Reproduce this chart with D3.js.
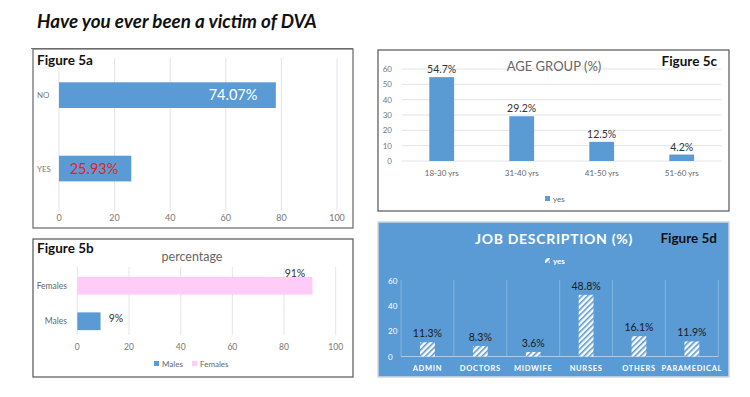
<!DOCTYPE html>
<html>
<head>
<meta charset="utf-8">
<script src="https://cdn.jsdelivr.net/npm/d3@7"></script>
<style>
  body { margin: 0; background: #fff; }
  svg { display: block; font-family: Lato, "Open Sans", sans-serif; }
</style>
</head>
<body>
<div id="chart"></div>
<script>
// ---- data ----
const victimCats = ["NO", "YES"];
const victimVals = [78, 26];
const victimLabels = ["74.07%", "25.93%"];

const genderCats = ["Females", "Males"];
const genderVals = [91, 9];
const genderLabels = ["91%", "9%"];

const ageCats = ["18-30 yrs", "31-40 yrs", "41-50 yrs", "51-60 yrs"];
const ageVals = [54.7, 29.2, 12.5, 4.2];

const jobCats = ["ADMIN", "DOCTORS", "MIDWIFE", "NURSES", "OTHERS", "PARAMEDICAL"];
const jobVals = [11.3, 8.3, 3.6, 48.8, 16.1, 11.9];

const xTicks100 = [0, 20, 40, 60, 80, 100];

const blue = "#5B9BD5";
const pink = "#FFCCF7";

const width = 750, height = 397;
const svg = d3.select("#chart").append("svg")
  .attr("width", width)
  .attr("height", height);

// hatch pattern for 5d
const defs = svg.append("defs");
const pat = defs.append("pattern")
  .attr("id", "hatch")
  .attr("patternUnits", "userSpaceOnUse")
  .attr("width", 4).attr("height", 4)
  .attr("patternTransform", "rotate(45)");
pat.append("rect").attr("width", 4).attr("height", 4).attr("fill", "#fff");
pat.append("rect").attr("width", 1.6).attr("height", 4).attr("fill", blue);

// title
svg.append("text")
  .attr("x", 37).attr("y", 28)
  .attr("font-size", 18.8)
  .attr("font-weight", "bold")
  .attr("font-style", "italic")
  .attr("fill", "#111")
  .text("Have you ever been a victim of DVA");
svg.append("line")
  .attr("x1", 31).attr("x2", 353)
  .attr("y1", 48.5).attr("y2", 48.5)
  .attr("stroke", "#777").attr("stroke-width", 1);

// ---------- Figure 5a ----------
{
  const g = svg.append("g");
  g.append("rect")
    .attr("x", 33).attr("y", 49).attr("width", 320).attr("height", 179)
    .attr("fill", "#fff").attr("stroke", "#666").attr("stroke-width", 1.2);

  const x = d3.scaleLinear().domain([0, 100]).range([59, 337]);
  const y = d3.scaleBand().domain(victimCats).range([45.6, 218.1]).paddingInner(0.65).paddingOuter(0.5);

  g.selectAll(".grid").data(xTicks100).join("line")
    .attr("x1", d => x(d)).attr("x2", d => x(d))
    .attr("y1", 58).attr("y2", 211)
    .attr("stroke", "#dfe3ea");

  g.selectAll(".xt").data(xTicks100).join("text")
    .attr("x", d => x(d)).attr("y", 221)
    .attr("text-anchor", "middle")
    .attr("font-size", 9).attr("fill", "#777")
    .text(d => d);

  g.selectAll(".bar").data(victimCats).join("rect")
    .attr("x", x(0))
    .attr("y", d => y(d))
    .attr("width", (d, i) => x(victimVals[i]) - x(0))
    .attr("height", y.bandwidth())
    .attr("fill", blue);

  g.selectAll(".cat").data(victimCats).join("text")
    .attr("x", 37)
    .attr("y", d => y(d) + y.bandwidth() / 2 + 3)
    .attr("font-size", 8).attr("fill", "#777")
    .text(d => d);

  g.selectAll(".lab").data(victimCats).join("text")
    .attr("x", (d, i) => i === 0 ? 233 : 94)
    .attr("y", d => y(d) + y.bandwidth() / 2 + 5)
    .attr("text-anchor", "middle")
    .attr("font-size", 14.5)
    .attr("fill", (d, i) => i === 0 ? "#fff" : "#e8202a")
    .text((d, i) => victimLabels[i]);

  g.append("text")
    .attr("x", 37).attr("y", 65)
    .attr("font-size", 13.5).attr("font-weight", "bold").attr("fill", "#111")
    .text("Figure 5a");
}

// ---------- Figure 5b ----------
{
  const g = svg.append("g");
  g.append("rect")
    .attr("x", 33).attr("y", 239).attr("width", 320).attr("height", 138)
    .attr("fill", "#fff").attr("stroke", "#555").attr("stroke-width", 1.2);

  const x = d3.scaleLinear().domain([0, 100]).range([77.3, 335.7]);
  const y = d3.scaleBand().domain(genderCats).range([268, 339]).paddingInner(0.5).paddingOuter(0.25);

  g.selectAll(".grid").data(xTicks100).join("line")
    .attr("x1", d => x(d)).attr("x2", d => x(d))
    .attr("y1", 267).attr("y2", 335)
    .attr("stroke", "#e4e6ea");

  g.selectAll(".xt").data(xTicks100).join("text")
    .attr("x", d => x(d)).attr("y", 349.5)
    .attr("text-anchor", "middle")
    .attr("font-size", 8.5).attr("fill", "#777")
    .text(d => d);

  g.selectAll(".bar").data(genderCats).join("rect")
    .attr("x", x(0))
    .attr("y", d => y(d))
    .attr("width", (d, i) => x(genderVals[i]) - x(0))
    .attr("height", y.bandwidth())
    .attr("fill", (d, i) => i === 0 ? pink : blue);

  g.selectAll(".cat").data(genderCats).join("text")
    .attr("x", 67)
    .attr("y", d => y(d) + y.bandwidth() / 2 + 3)
    .attr("text-anchor", "end")
    .attr("font-size", 8.5).attr("fill", "#666")
    .text(d => d);

  g.selectAll(".lab").data(genderCats).join("text")
    .attr("x", (d, i) => i === 0 ? 295 : 116)
    .attr("y", (d, i) => i === 0 ? 277 : 322)
    .attr("text-anchor", "middle")
    .attr("font-size", 10.5).attr("fill", "#333")
    .text((d, i) => genderLabels[i]);

  g.append("text")
    .attr("x", 192).attr("y", 261)
    .attr("text-anchor", "middle")
    .attr("font-size", 12.5).attr("fill", "#666")
    .text("percentage");

  // legend
  const leg = g.append("g").attr("transform", "translate(154,361)");
  genderCats.slice().reverse().forEach((c, i) => {
    const lx = i * 38;
    leg.append("rect").attr("x", lx).attr("y", 0).attr("width", 5).attr("height", 5)
      .attr("fill", c === "Males" ? blue : pink);
    leg.append("text").attr("x", lx + 8).attr("y", 6)
      .attr("font-size", 8).attr("fill", "#666").text(c);
  });

  g.append("text")
    .attr("x", 37).attr("y", 253)
    .attr("font-size", 13.5).attr("font-weight", "bold").attr("fill", "#111")
    .text("Figure 5b");
}

// ---------- Figure 5c ----------
{
  const g = svg.append("g");
  g.append("rect")
    .attr("x", 378).attr("y", 50).attr("width", 351).attr("height", 161)
    .attr("fill", "#fff").attr("stroke", "#555").attr("stroke-width", 1.2);

  const x = d3.scaleBand().domain(ageCats).range([401.7, 721.7]).paddingInner(0.69).paddingOuter(0.345);
  const y = d3.scaleLinear().domain([0, 60]).range([161, 69]);

  g.selectAll(".grid").data(y.ticks(6)).join("line")
    .attr("x1", 401.7).attr("x2", 721.7)
    .attr("y1", d => y(d)).attr("y2", d => y(d))
    .attr("stroke", "#e2e4e8");

  g.selectAll(".yt").data(y.ticks(6)).join("text")
    .attr("x", 392).attr("y", d => y(d) + 3)
    .attr("text-anchor", "end")
    .attr("font-size", 8).attr("fill", "#777")
    .text(d => d);

  g.selectAll(".bar").data(ageCats).join("rect")
    .attr("x", d => x(d))
    .attr("y", (d, i) => y(ageVals[i]))
    .attr("width", x.bandwidth())
    .attr("height", (d, i) => y(0) - y(ageVals[i]))
    .attr("fill", blue);

  g.selectAll(".lab").data(ageCats).join("text")
    .attr("x", d => x(d) + x.bandwidth() / 2)
    .attr("y", (d, i) => y(ageVals[i]) - 4)
    .attr("text-anchor", "middle")
    .attr("font-size", 10.5).attr("fill", "#333")
    .text((d, i) => ageVals[i] + "%");

  g.selectAll(".cat").data(ageCats).join("text")
    .attr("x", d => x(d) + x.bandwidth() / 2)
    .attr("y", 176)
    .attr("text-anchor", "middle")
    .attr("font-size", 8).attr("fill", "#666")
    .text(d => d);

  g.append("rect").attr("x", 545).attr("y", 196).attr("width", 5).attr("height", 5).attr("fill", blue);
  g.append("text").attr("x", 553).attr("y", 202)
    .attr("font-size", 8).attr("fill", "#666").text("yes");

  g.append("text")
    .attr("x", 554).attr("y", 71)
    .attr("text-anchor", "middle")
    .attr("font-size", 13).attr("fill", "#666")
    .text("AGE GROUP (%)");

  g.append("text")
    .attr("x", 717).attr("y", 66)
    .attr("text-anchor", "end")
    .attr("font-size", 13.5).attr("font-weight", "bold").attr("fill", "#111")
    .text("Figure 5c");
}

// ---------- Figure 5d ----------
{
  const g = svg.append("g");
  g.append("rect")
    .attr("x", 378).attr("y", 222).attr("width", 351).attr("height", 155)
    .attr("fill", blue).attr("stroke", "#cfd8e3").attr("stroke-width", 1.5);

  const x = d3.scaleBand().domain(jobCats).range([401, 718.3]).paddingInner(0.72).paddingOuter(0.36);
  const y = d3.scaleLinear().domain([0, 60]).range([356.5, 280.7]);

  // category separators
  const bounds = d3.range(jobCats.length + 1).map(i => 401 + i * x.step());
  g.selectAll(".sep").data(bounds).join("line")
    .attr("x1", d => d).attr("x2", d => d)
    .attr("y1", 280).attr("y2", 356.5)
    .attr("stroke", "#8dbbe6").attr("stroke-width", 0.8);
  g.append("line")
    .attr("x1", 401).attr("x2", 718.3)
    .attr("y1", y(0)).attr("y2", y(0))
    .attr("stroke", "#a9cbee").attr("stroke-width", 1);

  g.selectAll(".yt").data([0, 20, 40, 60]).join("text")
    .attr("x", 388).attr("y", d => y(d) + 3)
    .attr("font-size", 8).attr("fill", "#fff")
    .text(d => d);

  g.selectAll(".bar").data(jobCats).join("rect")
    .attr("x", d => x(d))
    .attr("y", (d, i) => y(jobVals[i]))
    .attr("width", x.bandwidth())
    .attr("height", (d, i) => y(0) - y(jobVals[i]))
    .attr("fill", "url(#hatch)");

  g.selectAll(".lab").data(jobCats).join("text")
    .attr("x", d => x(d) + x.bandwidth() / 2)
    .attr("y", (d, i) => y(jobVals[i]) - 5)
    .attr("text-anchor", "middle")
    .attr("font-size", 10.5).attr("fill", "#1a1a1a")
    .text((d, i) => jobVals[i] + "%");

  g.selectAll(".cat").data(jobCats).join("text")
    .attr("x", d => x(d) + x.bandwidth() / 2)
    .attr("y", 371)
    .attr("text-anchor", "middle")
    .attr("font-size", 7.5).attr("font-weight", "bold")
    .attr("letter-spacing", 0.7).attr("fill", "#fff")
    .text(d => d);

  g.append("rect").attr("x", 545).attr("y", 258).attr("width", 5).attr("height", 5).attr("fill", "url(#hatch)");
  g.append("text").attr("x", 553).attr("y", 264)
    .attr("font-size", 8).attr("font-weight", "bold").attr("fill", "#fff").text("yes");

  g.append("text")
    .attr("x", 554).attr("y", 244)
    .attr("text-anchor", "middle")
    .attr("font-size", 14).attr("font-weight", "bold")
    .attr("letter-spacing", 0.7).attr("fill", "#fff")
    .text("JOB DESCRIPTION (%)");

  g.append("text")
    .attr("x", 717).attr("y", 243)
    .attr("text-anchor", "end")
    .attr("font-size", 13.5).attr("font-weight", "bold").attr("fill", "#111")
    .text("Figure 5d");
}
</script>
</body>
</html>
